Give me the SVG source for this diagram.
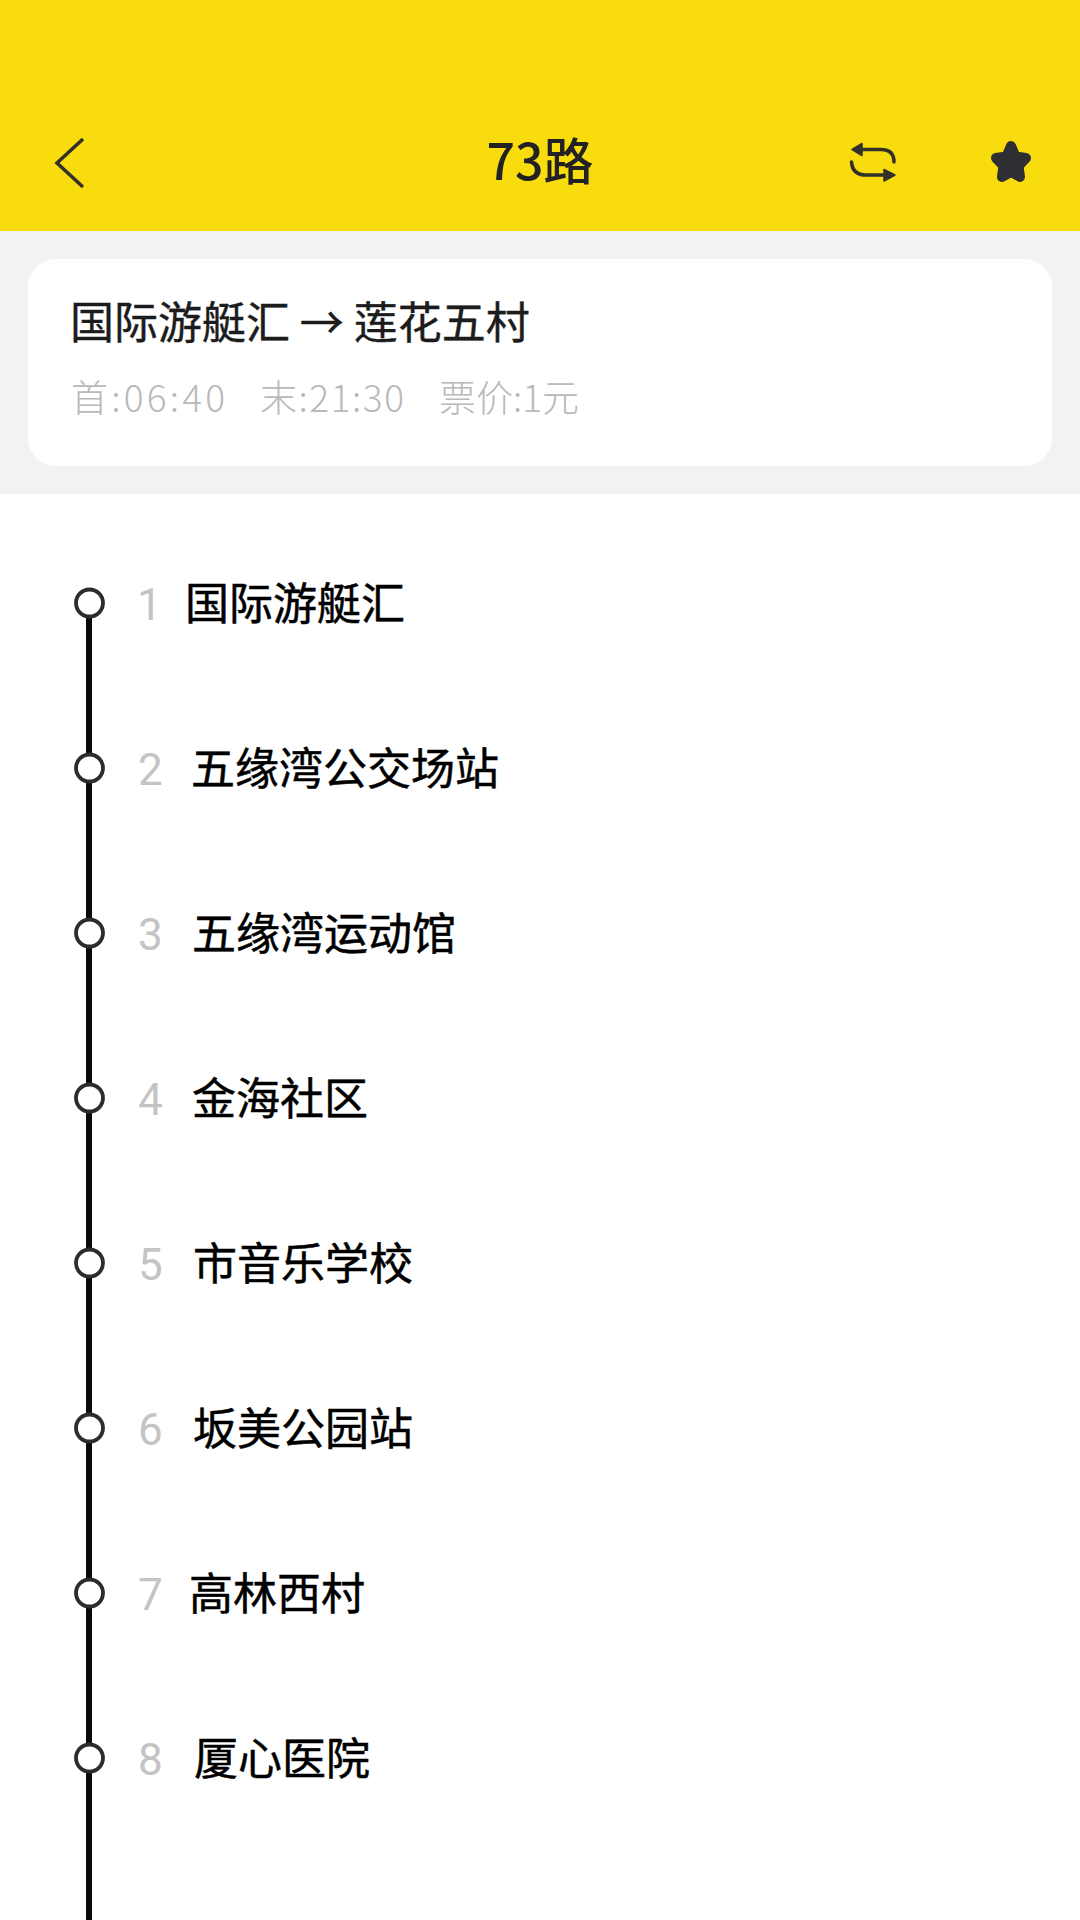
<svg xmlns="http://www.w3.org/2000/svg" width="1080" height="1920" viewBox="0 0 1080 1920">
<style>
text{font-family:"Noto Sans CJK SC","Noto Sans",sans-serif}
.num{font-family:Roboto,"Noto Sans",sans-serif;font-size:44px;font-weight:400;fill:#c4c4c4}
.name{font-size:44px;fill:#000;stroke:#000;stroke-width:.5}
.stop{fill:#fff;stroke:#2c2c2c;stroke-width:3.8}
.seg{stroke:#0a0a0a;stroke-width:6;fill:none}
.ico{fill:none;stroke:#33302a;stroke-width:3.5;stroke-linecap:round;stroke-linejoin:round}
</style>
<rect width="1080" height="1920" fill="#fff"/>
<g id="header">
<rect width="1080" height="231" fill="#f9dc0e"/>
<path class="ico" d="M83 139L57 163L83 187" style="stroke-linecap:butt;stroke-width:3.5;stroke-linejoin:miter"/>
<text x="540" y="180" text-anchor="middle" font-size="50" font-weight="500" fill="#222">73路</text>
<g id="swap-icon">
<path class="ico" d="M858 149.500H881Q894 149.500 894 162M851.500 162Q852.500 175 866 175H888"/>
<path d="M852 149.500L862 143.500V155.500Z M895 175L884 169.500V181Z" fill="#33302a" stroke="#33302a" stroke-linejoin="round" stroke-width="1.500"/>
</g>
<path id="star-icon" d="M1011 146L1015.500 156.500L1026 158L1018.500 166L1020 177L1011 172L1002 177L1003.500 166L996 158L1006.500 156.500Z" fill="#2f2f33" stroke="#2f2f33" stroke-width="10" stroke-linejoin="round"/>
</g>
<g id="info">
<rect y="231" width="1080" height="263" fill="#f1f2f2"/>
<rect x="28" y="259" width="1024" height="207" rx="28" fill="#fff"/>
<text x="70" y="339" font-size="44" fill="#1c1c1c" stroke="#1c1c1c" stroke-width=".4">国际游艇汇 → 莲花五村</text>
<g font-size="37" fill="#b9b9b9" font-weight="300">
<text x="71" y="412" textLength="154" lengthAdjust="spacing">首:06:40</text>
<text x="260" y="412" textLength="144" lengthAdjust="spacing">末:21:30</text>
<text x="439" y="412">票价:1元</text>
</g>
</g>
<g id="connectors">
<line class="seg" x1="89" y1="602" x2="89" y2="768"/>
<line class="seg" x1="89" y1="768" x2="89" y2="933"/>
<line class="seg" x1="89" y1="933" x2="89" y2="1098"/>
<line class="seg" x1="89" y1="1098" x2="89" y2="1263"/>
<line class="seg" x1="89" y1="1263" x2="89" y2="1428"/>
<line class="seg" x1="89" y1="1428" x2="89" y2="1593"/>
<line class="seg" x1="89" y1="1593" x2="89" y2="1758"/>
<line class="seg" x1="89" y1="1758" x2="89" y2="1920"/>
</g>
<g id="stop-1"><circle class="stop" cx="89.500" cy="603" r="13.500"/><text class="num" x="137" y="620">1</text><text class="name" x="185" y="620">国际游艇汇</text></g>
<g id="stop-2"><circle class="stop" cx="89.500" cy="768" r="13.500"/><text class="num" x="138" y="785">2</text><text class="name" x="191" y="785">五缘湾公交场站</text></g>
<g id="stop-3"><circle class="stop" cx="89.500" cy="933" r="13.500"/><text class="num" x="138" y="950">3</text><text class="name" x="192" y="950">五缘湾运动馆</text></g>
<g id="stop-4"><circle class="stop" cx="89.500" cy="1098" r="13.500"/><text class="num" x="138" y="1115">4</text><text class="name" x="192" y="1115">金海社区</text></g>
<g id="stop-5"><circle class="stop" cx="89.500" cy="1263" r="13.500"/><text class="num" x="138" y="1280">5</text><text class="name" x="193" y="1280">市音乐学校</text></g>
<g id="stop-6"><circle class="stop" cx="89.500" cy="1428" r="13.500"/><text class="num" x="138" y="1445">6</text><text class="name" x="193" y="1445">坂美公园站</text></g>
<g id="stop-7"><circle class="stop" cx="89.500" cy="1593" r="13.500"/><text class="num" x="138" y="1610">7</text><text class="name" x="189" y="1610">高林西村</text></g>
<g id="stop-8"><circle class="stop" cx="89.500" cy="1758" r="13.500"/><text class="num" x="138" y="1775">8</text><text class="name" x="194" y="1775">厦心医院</text></g>
</svg>
